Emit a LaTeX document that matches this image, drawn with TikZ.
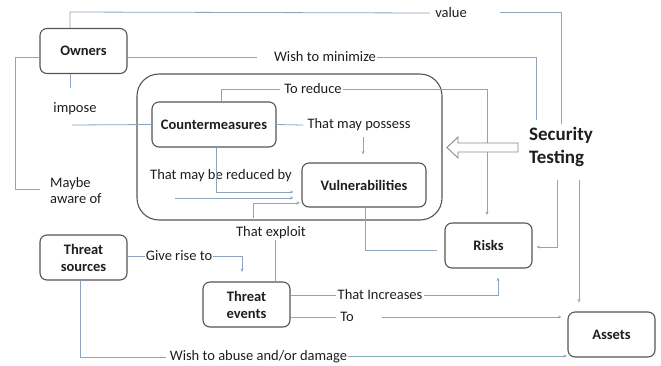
\documentclass[tikz,border=0pt]{standalone}
\usepackage{fontspec}
\setmainfont{Carlito}
\usetikzlibrary{arrows.meta}
\definecolor{linec}{RGB}{140,165,190}
\definecolor{boxc}{RGB}{85,85,85}
\definecolor{txtc}{RGB}{30,30,30}
\begin{document}
\begin{tikzpicture}[x=1pt,y=-1pt,
  every node/.style={text=txtc},
  box/.style={draw=boxc, line width=1.1pt, rounded corners=7pt, minimum width=87pt, minimum height=45pt,
    font=\fontsize{14.5}{17}\selectfont\bfseries, align=center, inner sep=2pt},
  lbl/.style={font=\fontsize{14.5}{17}\selectfont, inner sep=1pt},
  conn/.style={draw=linec, line width=0.8pt},
  arr/.style={conn, -{Stealth[length=3.5pt,width=3pt]}}]
\useasboundingbox (0,0) rectangle (661,365);
% outer container
\draw[boxc, line width=1.1pt, rounded corners=22pt] (137,74) rectangle (442,220);
% boxes
\node[box] (owners) at (83.5,51) {Owners};
\node[box, minimum width=124pt] (cm) at (214,124.5) {Countermeasures};
\node[box, minimum width=124pt, minimum height=44pt] (vul) at (364,185) {Vulnerabilities};
\node[box] (risks) at (488.5,245.5) {Risks};
\node[box] (assets) at (611.5,334.5) {Assets};
\node[box] (ts) at (83.5,257.5) {Threat\\sources};
\node[box] (te) at (246.5,304.5) {Threat\\events};
\node[font=\fontsize{19}{23}\selectfont\bfseries, align=left, inner sep=0pt] (st) at (561,147) {Security\\Testing};
% labels
\node[lbl] (value) at (451,13) {value};
\node[lbl] (wish) at (325,57) {Wish to minimize};
\node[lbl] (impose) at (75,109) {impose};
\node[lbl, align=left, anchor=west, font=\fontsize{14.5}{16}\selectfont] (maybe) at (49,191) {Maybe\\aware of};
\node[lbl] (toreduce) at (313,89) {To reduce};
\node[lbl] (possess) at (359,125) {That may possess};
\node[lbl] (reducedby) at (221,176) {That may be reduced by};
\node[lbl] (exploit) at (271,233) {That exploit};
\node[lbl] (giverise) at (179,256) {Give rise to};
\node[lbl] (increases) at (380,295) {That Increases};
\node[lbl] (to) at (347,317) {To};
\node[lbl] (abuse) at (258.5,357) {Wish to abuse and/or damage};
% helper coordinates
\coordinate (vA) at (70,12);
\coordinate (vB) at (500,12);
\coordinate (vC) at (561,124);
\coordinate (wA) at (257,57);
\coordinate (wC) at (536,120);
\coordinate (iA) at (70,88);
\coordinate (iB) at (72,125);
\coordinate (mA) at (15,57);
\coordinate (mB) at (40,189);
\coordinate (mC) at (175,198);
\coordinate (rA) at (221,89);
\coordinate (rB) at (487,215);
\coordinate (pA) at (363,137);
\coordinate (bA) at (216,192);
\coordinate (eA) at (275,240);
\coordinate (eB) at (253,218);
\coordinate (eC) at (300,203);
\coordinate (kA) at (365,250);
\coordinate (kB) at (437,250);
\coordinate (sA) at (557,180);
\coordinate (sB) at (579,180);
\coordinate (gA) at (242,272);
\coordinate (tA) at (382,317);
\coordinate (aA) at (80,357);
\coordinate (aB) at (567,356);
% connectors
\draw[conn] (owners.north -| vA) -- (vA) -- ([xshift=-4pt]value.west);
\draw[conn] (vB) -| (vC);
\draw[conn] (owners.east |- wA) -- (wA);
\draw[conn] (wish.east) -| (wC);
\draw[conn] (owners.south -| iA) -- (iA);
\draw[conn] (iB) -- (cm.west);
\draw[conn] ([yshift=-6pt]owners.west) -- (mA) |- (mB);
\draw[arr, shorten >=8pt] (mC) -- (vul.west |- mC);
\draw[conn] (cm.north -| rA) -- (rA) -- ([xshift=-3pt]toreduce.west);
\draw[arr] (toreduce.east) -| (rB);
\draw[conn] (cm.east) -- ([xshift=-3pt]possess.west);
\draw[arr, shorten >=8pt] (pA) -- (vul.north -| pA);
\draw[arr, shorten >=8pt] (cm.south -| bA) |- (vul.west |- bA);
\draw[conn] (te.north -| eA) -- (eA);
\draw[arr] (eB) |- (eC);
\draw[conn] (vul.south -| kA) |- (kB);
\draw[arr, shorten >=4pt] (sA) |- ([yshift=-1.5pt]risks.east);
\draw[arr, shorten >=9pt] (sB) -- (assets.north -| sB);
\draw[conn] (giverise.west -| ts.east) -- (giverise.west);
\draw[arr] (giverise.east) -| (gA);
\draw[conn] (increases.west -| te.east) -- (increases.west);
\draw[arr, shorten >=9pt] (increases.east) -| (risks.south -| 498,0);
\draw[conn] (to.west -| te.east) -- ([xshift=-3pt]to.west);
\draw[arr, shorten >=6pt] (tA) -- (assets.west |- tA);
\draw[conn] (ts.south -| aA) |- ([xshift=-3pt]abuse.west);
\draw[arr] (abuse.east |- aB) -- (aB);
% hollow arrow
\draw[boxc!70, line width=0.9pt, fill=white] (518,143) -- (458,143) -- (458,137) -- (447,147.5) -- (458,158) -- (458,152) -- (518,152) -- cycle;
\end{tikzpicture}
\end{document}
